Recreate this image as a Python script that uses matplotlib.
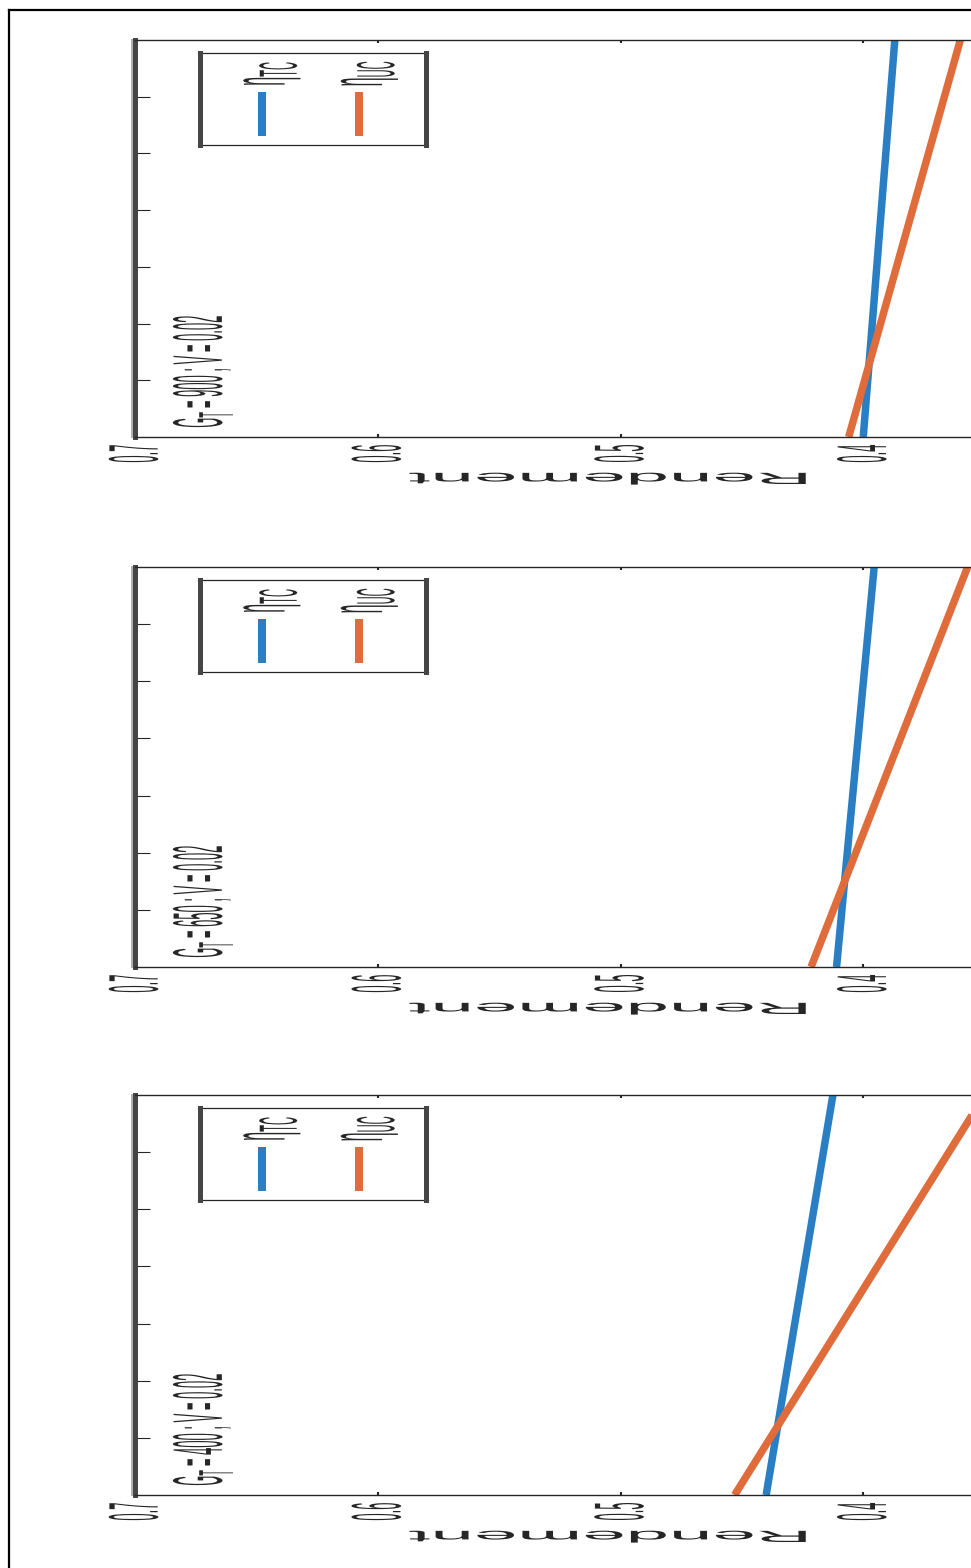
import matplotlib
matplotlib.use('Agg')
import matplotlib.pyplot as plt
from matplotlib.lines import Line2D
from matplotlib.patheffects import AbstractPathEffect
from matplotlib.transforms import Affine2D

W, H, DPI = 971, 1568, 100

plt.rcParams['font.family'] = ['Liberation Sans', 'DejaVu Sans']
plt.rcParams['mathtext.fontset'] = 'custom'
plt.rcParams['mathtext.rm'] = 'Liberation Sans'
plt.rcParams['mathtext.it'] = 'Liberation Sans'
plt.rcParams['mathtext.bf'] = 'Liberation Sans:bold'

# irradiance per panel (top to bottom) and flow speed
irradiance = [900, 650, 400]
vitesse = 0.02

# abscissa range of the curves (drawn vertically)
x_var = [0, 70]

# efficiencies at both ends of x_var
eta_tc_900 = [0.400, 0.387]
eta_uc_900 = [0.406, 0.360]
eta_tc_650 = [0.411, 0.3955]
eta_uc_650 = [0.4215, 0.357]
eta_tc_400 = [0.440, 0.4125]
eta_uc_400 = [0.453, 0.350]

rend_ticks = [0.7, 0.6, 0.5, 0.4]
rend_labels = ['0.7', '0.6', '0.5', '0.4']
legend_labels = [r'$\eta_{TC}$', r'$\eta_{UC}$']

BLUE = '#2a7fc4'
ORANGE = '#df6c3a'
TXT = '#262626'
SPINE = '#454545'
KX = 5.4   # horizontal stretch of all glyphs


class Stretch(AbstractPathEffect):
    """Draw text glyphs scaled around their own centre (display space)."""

    def __init__(self, kx=KX, ky=1.0):
        super().__init__()
        self.kx, self.ky = kx, ky

    def draw_path(self, renderer, gc, tpath, affine, rgbFace=None):
        if len(tpath.vertices) == 0:
            return
        bb = tpath.get_extents(affine)
        cx, cy = (bb.x0 + bb.x1) / 2, (bb.y0 + bb.y1) / 2
        st = Affine2D().translate(-cx, -cy).scale(self.kx, self.ky).translate(cx, cy)
        renderer.draw_path(gc, tpath, affine + st, rgbFace)


def fx(x):
    return x / W


def fy(y):
    return 1 - y / H


def pt(px):
    return px * 72 / DPI


fig = plt.figure(figsize=(W / DPI, H / DPI), dpi=DPI)

# figure frame, only top and left edges are inside the canvas
fig.add_artist(Line2D([fx(9), fx(9)], [0, fy(10)], color='black', lw=1.6))
fig.add_artist(Line2D([fx(9), 1], [fy(10), fy(10)], color='black', lw=1.6))

panels = [(40, 437), (567, 967), (1095, 1495)]
curves = [(eta_tc_900, eta_uc_900), (eta_tc_650, eta_uc_650), (eta_tc_400, eta_uc_400)]
AX_LEFT, AX_RIGHT = 135, 1106

for (top, bot), G, (tc, uc) in zip(panels, irradiance, curves):
    ax = fig.add_axes([fx(AX_LEFT), fy(bot), (AX_RIGHT - AX_LEFT) / W, (bot - top) / H])
    ax.plot(tc, x_var, color=BLUE, lw=pt(7.5), solid_capstyle='butt')
    ax.plot(uc, x_var, color=ORANGE, lw=pt(7.5), solid_capstyle='butt')
    ax.set_xlim(0.7, 0.3)
    ax.set_ylim(0, 70)
    ax.set_yticks(range(10, 70, 10))
    ax.set_xticks(rend_ticks)
    ax.set_xticklabels(rend_labels, rotation=90, fontsize=pt(13))
    ax.tick_params(axis='x', direction='in', length=2.5, width=1.5, top=True,
                   pad=5.5, colors=TXT)
    ax.tick_params(axis='y', direction='in', length=pt(15), width=0.8,
                   labelleft=False, colors=TXT)
    for lab in ax.get_xticklabels():
        lab.set_path_effects([Stretch(KX, 1.0)])
    for s in ['top', 'bottom']:
        ax.spines[s].set_linewidth(1.0)
        ax.spines[s].set_color(TXT)
    ax.spines['left'].set_linewidth(pt(5))
    ax.spines['left'].set_color(SPINE)
    ax.spines['right'].set_visible(False)
    # light rim on the outer side of the thick left edge
    fig.add_artist(Line2D([fx(132), fx(132)], [fy(bot), fy(top)], lw=pt(2),
                          color='#b0b0b0'))

    ax.set_xlabel('Rendement', fontsize=pt(13), rotation=180, color=TXT)
    ax.xaxis.set_label_coords((608 - AX_LEFT) / (AX_RIGHT - AX_LEFT), -40 / (bot - top))
    ax.xaxis.label.set_va('center')
    ax.xaxis.label.set_path_effects([Stretch(6.0, 1.25)])

    # legend box
    bx0, bx1 = 198, 428
    by0, by1 = top + 13, top + 105
    for yy in (by0, by1):
        fig.add_artist(Line2D([fx(bx0), fx(bx1)], [fy(yy), fy(yy)], lw=0.9, color=TXT))
    for xx in (bx0 + 2, bx1 - 2):
        fig.add_artist(Line2D([fx(xx), fx(xx)], [fy(by0), fy(by1)], lw=pt(5), color=SPINE))
    for kx_pos, col, lab in zip((261.5, 359), (BLUE, ORANGE), legend_labels):
        fig.add_artist(Line2D([fx(kx_pos), fx(kx_pos)], [fy(top + 52), fy(top + 96)],
                              lw=pt(8), color=col, solid_capstyle='butt'))
        fig.text(fx(kx_pos + 10), fy(top + 33), lab, rotation=90, ha='center',
                 va='center', fontsize=pt(16), color=TXT,
                 path_effects=[Stretch(4.8, 1.0)])

    fig.text(fx(203), fy(bot - 66), rf'$G_T$ = {G} ; V = {vitesse}', rotation=90,
             ha='center', va='center', fontsize=pt(13), color=TXT,
             path_effects=[Stretch(KX, 1.0)])

fig.savefig('out.png', dpi=DPI)
